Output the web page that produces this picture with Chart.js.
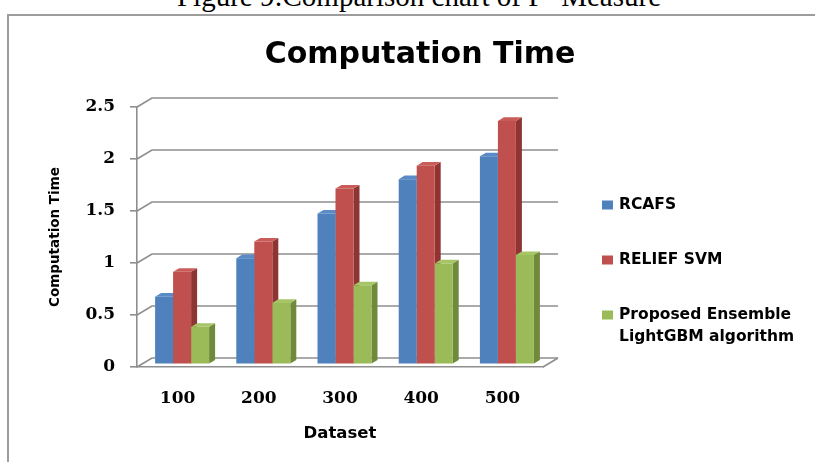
<!DOCTYPE html>
<html>
<head>
<meta charset="utf-8">
<title>Computation Time</title>
<script src="https://cdn.jsdelivr.net/npm/chart.js@4.4.1/dist/chart.umd.min.js"></script>
<style>
  html, body { margin: 0; padding: 0; background: #ffffff; overflow: hidden; }
  #wrap { position: relative; width: 815px; height: 462px; overflow: hidden; }
  #caption {
    position: absolute; left: 0; top: -18px; width: 838px;
    text-align: center; white-space: nowrap;
    font: 29px/29px "Liberation Serif", "Times New Roman", serif; color: #000;
  }
  #frame {
    position: absolute; left: 7px; top: 14px; width: 840px; height: 480px;
    border: 2px solid #9c9c9c; box-sizing: border-box;
  }
  #c { position: absolute; left: 0; top: 0; }
</style>
</head>
<body>
<div id="wrap">
  <div id="caption">Figure 9:Comparison chart of F- Measure</div>
  <div id="frame"></div>
  <canvas id="c" width="815" height="462"></canvas>
</div>
<script>
// ---- data ----
const chartTitle = 'Computation Time';
const categories = ['100', '200', '300', '400', '500'];
const rcafs      = [0.65, 1.02, 1.45, 1.78, 2.00];
const reliefSvm  = [0.89, 1.18, 1.69, 1.91, 2.34];
const proposed   = [0.36, 0.59, 0.76, 0.97, 1.05];
const yTicks     = [0, 0.5, 1, 1.5, 2, 2.5];
const seriesNames = ['RCAFS', 'RELIEF SVM', 'Proposed Ensemble LightGBM algorithm'];
const legendLines = [['RCAFS'], ['RELIEF SVM'], ['Proposed Ensemble', 'LightGBM algorithm']];

// ---- style ----
const frontColors = ['#4F81BD', '#C0504D', '#9BBB59'];
const sideColors  = ['#385E8C', '#8E3432', '#6E8A3A'];
const topColors   = ['#5A8BC8', '#C95C59', '#A6C567'];
const gridColor = '#8e8e8e';
const WALL_DX = 15, WALL_DY = -9;      // depth of the back wall
const BAR_DX = 4.5, BAR_DY = -2.7;     // bars sit a little behind the front plane
const BAR_DEPTH_X = 6, BAR_DEPTH_Y = -3.6;
const PAD = { left: 40, top: 107, right: 272, bottom: 14 };
const AXIS_LEFT = 137, AXIS_BOTTOM = 367;

// Back wall, side wall and floor edges of the 3-D box
const wallPlugin = {
  id: 'wall3d',
  beforeDatasetsDraw(chart) {
    const { ctx, chartArea: a } = chart;
    const y = chart.scales.y;
    ctx.save();
    ctx.strokeStyle = gridColor;
    ctx.lineWidth = 1.6;
    yTicks.forEach(v => {
      const py = y.getPixelForValue(v);
      ctx.beginPath();
      ctx.moveTo(a.left, py);
      ctx.lineTo(a.left + WALL_DX, py + WALL_DY);
      ctx.lineTo(a.right + WALL_DX, py + WALL_DY);
      ctx.stroke();
    });
    ctx.beginPath();
    ctx.moveTo(a.right, a.bottom);
    ctx.lineTo(a.right + WALL_DX, a.bottom + WALL_DY);
    ctx.stroke();
    ctx.restore();

    // extruded side and top faces of each column, drawn before the fronts
    ctx.save();
    ctx.translate(BAR_DX, BAR_DY);
    const n = categories.length;
    for (let i = 0; i < n; i++) {
      for (let d = 0; d < chart.data.datasets.length; d++) {
        const el = chart.getDatasetMeta(d).data[i];
        if (!el) continue;
        const { x, y: top, base, width } = el.getProps(['x', 'y', 'base', 'width'], true);
        const l = x - width / 2, r = x + width / 2;
        ctx.fillStyle = sideColors[d];
        ctx.beginPath();
        ctx.moveTo(r, top);
        ctx.lineTo(r + BAR_DEPTH_X, top + BAR_DEPTH_Y);
        ctx.lineTo(r + BAR_DEPTH_X, base + BAR_DEPTH_Y);
        ctx.lineTo(r, base);
        ctx.closePath();
        ctx.fill();
        ctx.fillStyle = topColors[d];
        ctx.beginPath();
        ctx.moveTo(l, top);
        ctx.lineTo(l + BAR_DEPTH_X, top + BAR_DEPTH_Y);
        ctx.lineTo(r + BAR_DEPTH_X, top + BAR_DEPTH_Y);
        ctx.lineTo(r, top);
        ctx.closePath();
        ctx.fill();
      }
    }
    // keep the offset while the library paints the front faces
  },
  afterDatasetsDraw(chart) {
    chart.ctx.restore();
  }
};

// Title and legend
const textPlugin = {
  id: 'titleLegend',
  afterDraw(chart) {
    const ctx = chart.ctx;
    ctx.save();
    ctx.fillStyle = '#000';
    ctx.textAlign = 'center';
    ctx.textBaseline = 'alphabetic';
    ctx.font = 'bold 30px "DejaVu Sans"';
    ctx.fillText(chartTitle, 420, 63);

    ctx.textAlign = 'left';
    ctx.textBaseline = 'middle';
    ctx.font = 'bold 15.5px "DejaVu Sans"';
    const lx = 602, tx = 619, y0 = 205, step = 55, lineH = 22;
    legendLines.forEach((lines, i) => {
      const cy = y0 + i * step;
      ctx.fillStyle = frontColors[i];
      ctx.fillRect(lx, cy - 4.5, 11, 9);
      ctx.fillStyle = '#000';
      lines.forEach((t, k) => ctx.fillText(t, tx, cy + k * lineH));
    });
    ctx.restore();
  }
};

const values = [rcafs, reliefSvm, proposed];

new Chart(document.getElementById('c'), {
  type: 'bar',
  data: {
    labels: categories,
    datasets: values.map((v, i) => ({
      label: seriesNames[i],
      data: v,
      backgroundColor: frontColors[i],
      borderWidth: 0,
      categoryPercentage: 0.665,
      barPercentage: 1.0,
      clip: false
    }))
  },
  options: {
    responsive: false,
    animation: false,
    devicePixelRatio: 1,
    layout: { padding: PAD },
    plugins: {
      legend: { display: false },
      title: { display: false },
      tooltip: { enabled: false }
    },
    scales: {
      x: {
        ticks: {
          color: '#000', padding: 21,
          font: { family: '"DejaVu Serif"', weight: 'bold', size: 17 }
        },
        grid: { display: false, drawTicks: false },
        border: { display: true, color: gridColor, width: 1.6 },
        title: {
          display: true, text: 'Dataset', color: '#000',
          font: { family: '"DejaVu Sans"', weight: 'bold', size: 16.5 },
          padding: { top: 0, bottom: 4 }
        },
        afterFit(s) { s.height = 462 - AXIS_BOTTOM - PAD.bottom; }
      },
      y: {
        min: 0, max: 2.5,
        afterBuildTicks(s) { s.ticks = yTicks.map(v => ({ value: v })); },
        ticks: {
          color: '#000', padding: 15,
          font: { family: '"DejaVu Serif"', weight: 'bold', size: 17 },
          callback: v => String(v)
        },
        grid: { drawOnChartArea: false, drawTicks: true, tickLength: 7, color: gridColor, lineWidth: 1.6 },
        border: { display: true, color: gridColor, width: 1.6 },
        title: {
          display: true, text: 'Computation Time', color: '#000',
          font: { family: '"DejaVu Sans"', weight: 'bold', size: 13.5 },
          padding: { top: 7, bottom: 0 }
        },
        afterFit(s) { s.width = AXIS_LEFT - PAD.left; }
      }
    }
  },
  plugins: [wallPlugin, textPlugin]
});
</script>
</body>
</html>
